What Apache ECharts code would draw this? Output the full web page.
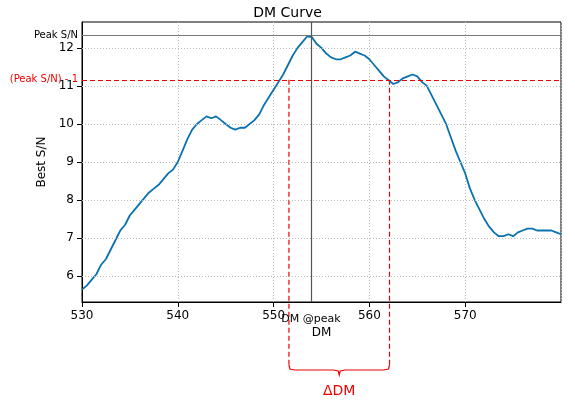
<!DOCTYPE html>
<html><head><meta charset="utf-8">
<script src="https://cdn.jsdelivr.net/npm/echarts@6/dist/echarts.min.js"></script>
<style>body{margin:0}#c{width:575px;height:403px}</style></head>
<body><div id="c"></div>
<script>
const dmValues = [];
for (let i = 0; i <= 100; i++) dmValues.push(530 + i * 0.5);
const snValues = [5.65,5.75,5.9,6.05,6.3,6.45,6.7,6.95,7.2,7.35,7.6,7.75,7.9,8.05,8.2,8.3,8.4,8.55,8.7,8.8,9.0,9.3,9.6,9.85,10.0,10.1,10.2,10.15,10.2,10.1,10.0,9.9,9.85,9.9,9.9,10.0,10.1,10.25,10.5,10.7,10.9,11.1,11.3,11.55,11.8,12.0,12.15,12.3,12.28,12.1,12.0,11.85,11.75,11.7,11.7,11.75,11.8,11.9,11.85,11.8,11.7,11.55,11.4,11.25,11.15,11.05,11.1,11.2,11.25,11.3,11.25,11.1,11.0,10.75,10.5,10.25,10.0,9.65,9.3,9.0,8.7,8.3,8.0,7.75,7.5,7.3,7.15,7.05,7.05,7.1,7.05,7.15,7.2,7.25,7.25,7.2,7.2,7.2,7.2,7.15,7.1];
const xTicks = [530,540,550,560,570];
const yTicks = [6,7,8,9,10,11,12];
const peakDM = 553.9, peakSN = 12.34, lowSN = 11.16, leftDM = 551.6, rightDM = 562.1;
const xMin = 530, xMax = 580, yMin = 5.32, yMax = 12.68;
const chart = echarts.init(document.getElementById('c'));
const font = 'DejaVu Sans';
const gridStyle = {color:'#bbb',type:[1,2],width:1};
chart.setOption({
  animation:false,
  title:{text:'DM Curve',left:'center',top:1,textStyle:{fontFamily:font,fontSize:14,fontWeight:'normal',color:'#000'}},
  grid:{left:82,right:14,top:22,bottom:101,show:true,borderColor:'#000',borderWidth:1},
  xAxis:{type:'value',min:xMin,max:xMax,interval:10,name:'DM',nameLocation:'middle',nameGap:25,
    nameTextStyle:{fontFamily:font,fontSize:12,color:'#000'},
    axisLine:{lineStyle:{color:'#000'}},axisTick:{lineStyle:{color:'#000'}},
    axisLabel:{fontFamily:font,fontSize:12,color:'#000',showMaxLabel:false,formatter:v=>xTicks.includes(v)?String(v):''},
    splitLine:{lineStyle:gridStyle}},
  yAxis:{type:'value',min:yMin,max:yMax,name:'Best S/N',nameLocation:'middle',nameGap:30,
    nameTextStyle:{fontFamily:font,fontSize:12,color:'#000'},
    axisLine:{show:true,lineStyle:{color:'#000'}},axisTick:{show:true,customValues:yTicks,lineStyle:{color:'#000'}},
    axisLabel:{fontFamily:font,fontSize:12,color:'#000',customValues:yTicks},
    splitLine:{show:false}},
  series:[{type:'line',data:dmValues.map((d,i)=>[d,snValues[i]]),showSymbol:false,
    lineStyle:{color:'#0b72b0',width:1.8},
    markLine:{silent:true,symbol:'none',label:{show:false},data:[
      ...yTicks.map(v=>({yAxis:v,lineStyle:gridStyle})),
      {yAxis:peakSN,lineStyle:{color:'#777',type:'solid',width:1.2}},
      {xAxis:peakDM,lineStyle:{color:'#555',type:'solid',width:1.2}},
      {yAxis:lowSN,lineStyle:{color:'#e00',type:[5,3],width:1.2}}]}}]
});
const px = (x,y)=>chart.convertToPixel({gridIndex:0},[x,y]);
const pk = px(peakDM,peakSN), lo = px(xMin,lowSN), l = px(leftDM,lowSN), r = px(rightDM,lowSN);
const base = 302, by = 365;
const red = '#e00';
const mid = (l[0]+r[0])/2;
const br = {stroke:red,fill:null,lineWidth:1.2};
chart.setOption({graphic:[
  {type:'text',style:{text:'Peak S/N',x:lo[0]-4,y:pk[1],align:'right',verticalAlign:'middle',fontFamily:font,fontSize:10,fill:'#000'}},
  {type:'text',style:{text:'(Peak S/N) - 1',x:lo[0]-4,y:lo[1],align:'right',verticalAlign:'middle',fontFamily:font,fontSize:10,fill:red}},
  {type:'line',shape:{x1:l[0],y1:l[1],x2:l[0],y2:by},style:{stroke:red,lineWidth:1.2,lineDash:[5,3]}},
  {type:'line',shape:{x1:r[0],y1:r[1],x2:r[0],y2:by},style:{stroke:red,lineWidth:1.2,lineDash:[5,3]}},
  {type:'text',style:{text:'DM @peak',x:pk[0],y:base+17,align:'center',verticalAlign:'middle',fontFamily:font,fontSize:11,fill:'#000'}},
  {type:'polyline',shape:{points:[[l[0],by],[l[0]+1,by+4],[l[0]+6,by+5],[mid-6,by+5],[mid-1,by+6],[mid,by+10],[mid+1,by+6],[mid+6,by+5],[r[0]-6,by+5],[r[0]-1,by+4],[r[0],by]]},style:br},
  {type:'text',style:{text:'ΔDM',x:mid,y:by+26,align:'center',verticalAlign:'middle',fontFamily:font,fontSize:14,fill:red}}
]});
</script></body></html>
